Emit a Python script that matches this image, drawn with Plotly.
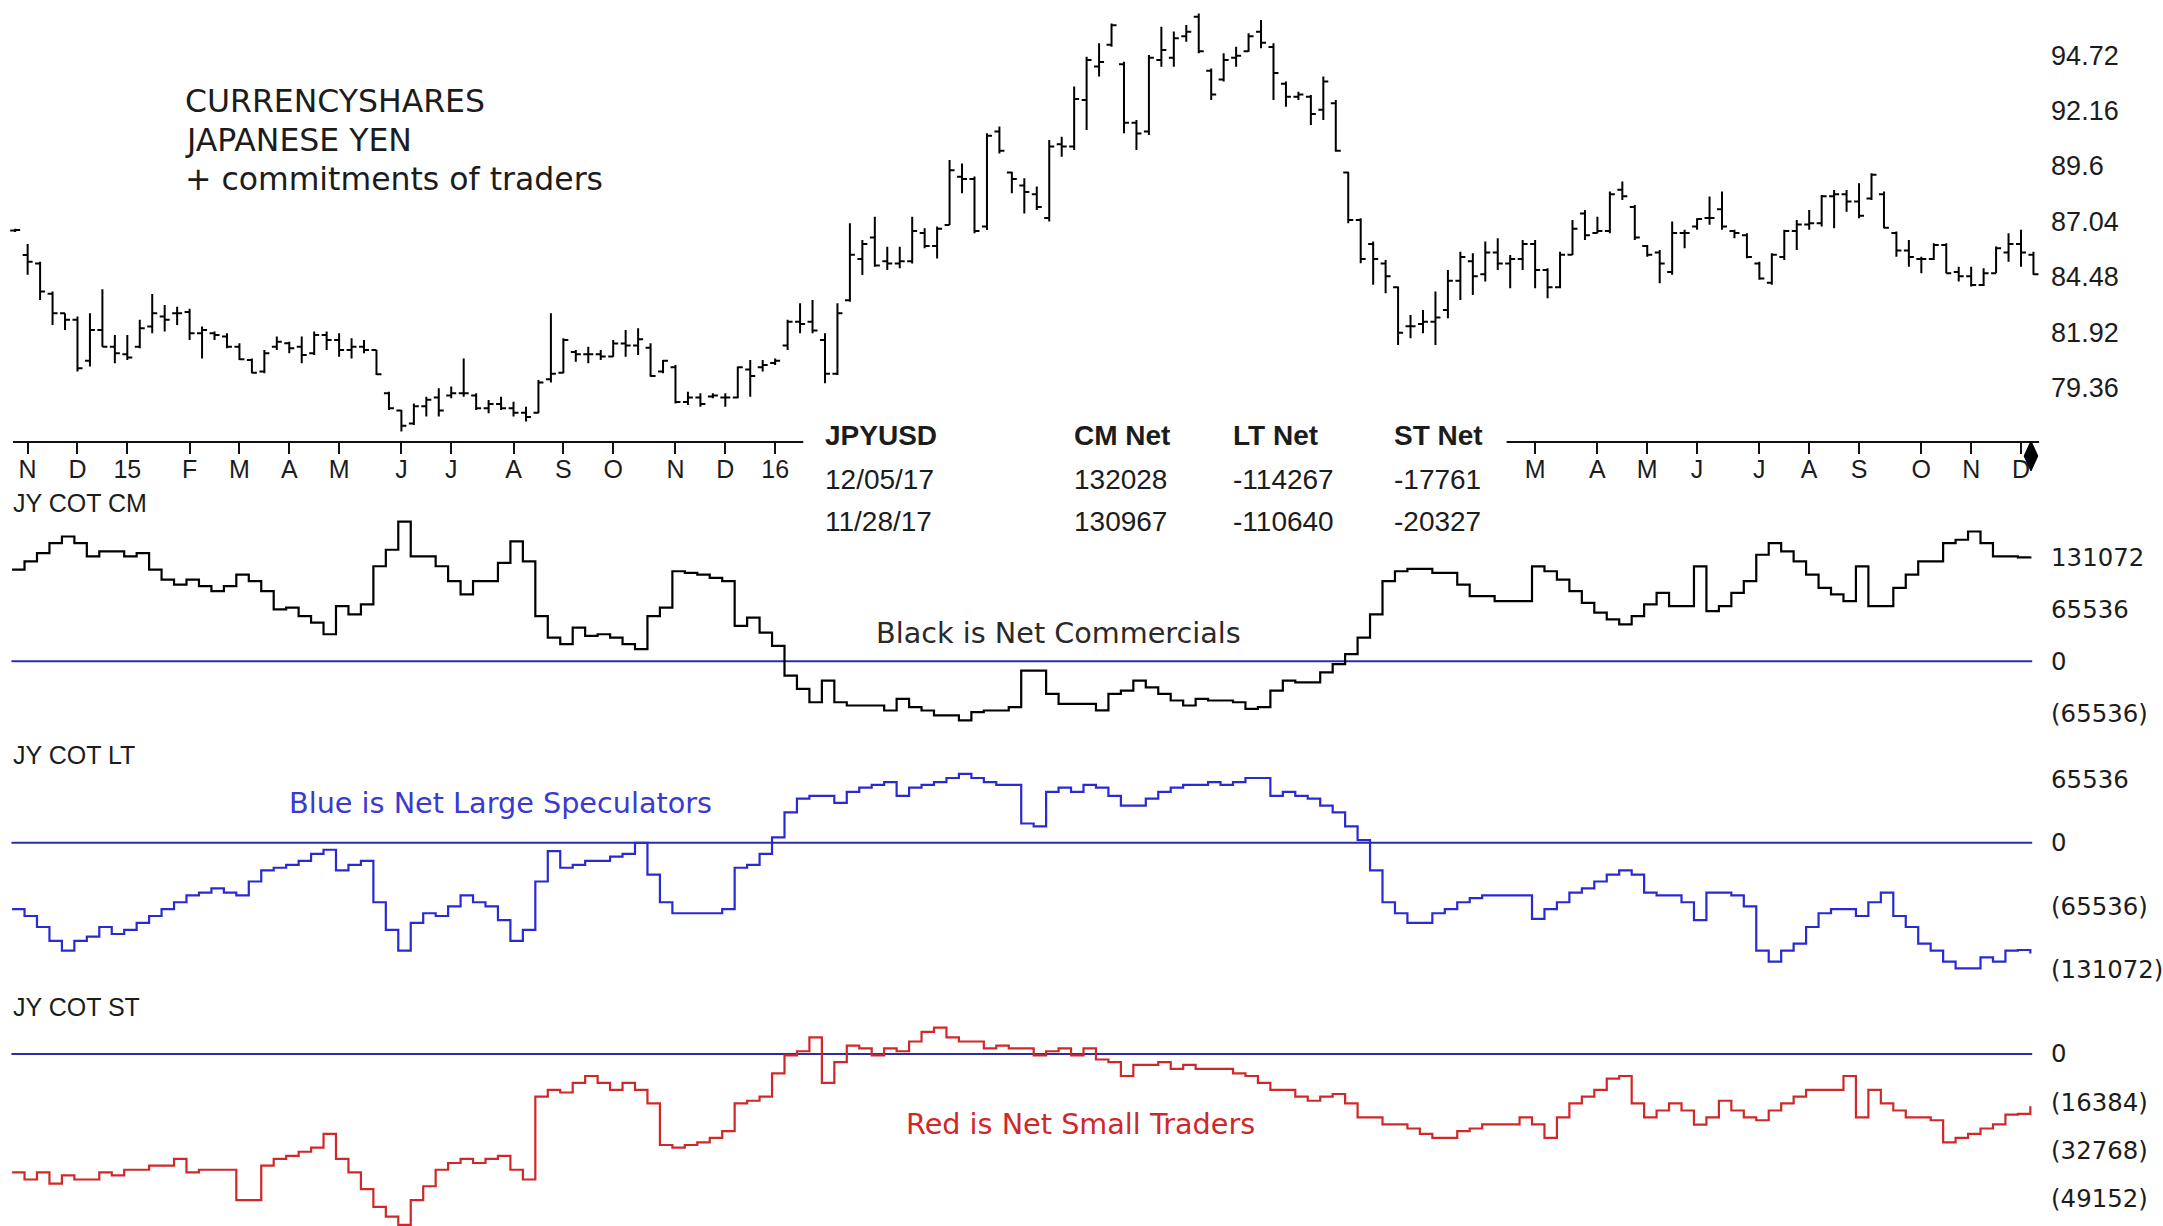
import pandas as pd
import plotly.graph_objects as go

FIG_W, FIG_H = 2163, 1226

# Weekly bars (week ending Friday)
WEEKS = pd.date_range("2014-10-31", "2017-12-08", freq="W-FRI")

OPEN = [
    86.62, 85.49, 85.10, 83.70, 82.79, 82.49, 80.60, 82.02, 81.25, 80.90,
    81.25, 82.18, 82.64, 82.79, 82.85, 81.87, 81.87, 81.72, 81.25, 80.64,
    80.10, 81.25, 81.41, 81.25, 80.95, 81.79, 81.56, 81.10, 81.25, 81.10,
    79.10, 78.30, 77.70, 78.50, 78.90, 79.00, 79.10, 79.00, 78.40, 78.60,
    78.40, 78.20, 78.20, 79.75, 80.05, 81.00, 80.90, 80.90, 80.80, 81.40,
    81.30, 81.20, 80.10, 80.30, 78.70, 78.90, 78.95, 78.90, 78.90, 80.20,
    80.30, 80.50, 81.30, 82.40, 82.40, 81.56, 80.00, 83.40, 85.30, 86.30,
    85.20, 85.10, 85.20, 86.50, 85.90, 86.87, 89.10, 89.00, 86.80, 91.20,
    89.30, 88.70, 88.30, 87.20, 90.60, 90.50, 92.65, 94.20, 95.20, 94.30,
    91.60, 91.20, 94.50, 94.60, 95.60, 96.50, 94.00, 93.60, 94.60, 94.90,
    95.80, 95.10, 93.40, 92.80, 92.80, 92.20, 92.50, 89.30, 87.10, 86.00,
    85.10, 84.00, 82.20, 82.30, 82.40, 82.95, 84.30, 85.20, 84.60, 85.60,
    85.10, 85.30, 86.00, 84.80, 84.00, 85.50, 87.40, 86.50, 86.60, 88.50,
    87.70, 85.90, 85.60, 84.70, 86.50, 86.80, 87.20, 87.60, 86.60, 86.40,
    85.10, 84.20, 85.40, 86.60, 86.90, 86.95, 88.20, 88.30, 87.96, 88.10,
    88.30, 86.50, 85.70, 85.30, 85.30, 85.95, 84.70, 84.50, 84.10, 84.64,
    85.60, 86.00, 85.50,
]
HIGH = [
    86.70, 86.00, 85.18, 83.80, 82.79, 82.64, 82.79, 83.90, 81.79, 81.79,
    82.49, 83.69, 83.18, 83.10, 83.00, 82.18, 81.95, 81.87, 81.41, 80.71,
    81.10, 81.72, 81.48, 81.72, 81.95, 81.95, 81.87, 81.64, 81.56, 81.10,
    79.17, 78.33, 78.63, 78.94, 79.33, 79.41, 80.71, 79.10, 78.79, 78.94,
    78.71, 78.48, 79.71, 82.79, 81.64, 81.10, 81.25, 81.10, 81.56, 82.02,
    82.10, 81.41, 80.64, 80.41, 79.17, 79.10, 79.10, 79.10, 80.33, 80.64,
    80.64, 80.71, 82.49, 83.26, 83.41, 81.87, 83.26, 86.95, 86.18, 87.26,
    85.87, 85.87, 87.26, 86.72, 86.80, 89.88, 89.72, 89.11, 91.11, 91.42,
    89.34, 89.03, 88.65, 90.80, 90.95, 93.27, 94.65, 95.27, 96.19, 94.42,
    91.73, 94.73, 96.04, 95.81, 96.11, 96.65, 94.11, 94.81, 95.11, 95.73,
    96.35, 95.27, 93.50, 93.03, 92.88, 93.73, 92.65, 89.34, 87.19, 86.11,
    85.26, 84.03, 82.72, 82.95, 83.80, 84.80, 85.64, 85.57, 86.11, 86.26,
    85.49, 86.18, 86.18, 84.88, 85.64, 87.11, 87.57, 87.26, 88.42, 88.88,
    87.80, 85.95, 85.72, 87.03, 86.65, 87.19, 88.19, 88.42, 86.65, 86.49,
    85.18, 85.57, 86.65, 87.11, 87.57, 88.26, 88.49, 88.49, 88.80, 89.26,
    88.42, 86.57, 86.18, 85.41, 86.03, 86.03, 84.95, 84.95, 84.88, 85.88,
    86.49, 86.65, 85.64,
]
LOW = [
    86.55, 84.57, 83.41, 82.25, 82.02, 80.10, 80.33, 81.25, 80.48, 80.64,
    81.18, 81.87, 81.95, 82.25, 81.56, 80.71, 81.56, 81.18, 80.64, 80.02,
    80.02, 81.10, 80.95, 80.48, 80.87, 81.10, 80.79, 80.71, 80.95, 79.94,
    78.33, 77.33, 77.63, 78.02, 78.02, 78.87, 78.94, 78.33, 78.17, 78.33,
    78.02, 77.79, 78.17, 79.60, 80.02, 80.56, 80.48, 80.64, 80.79, 80.79,
    80.87, 79.86, 80.02, 78.63, 78.56, 78.48, 78.87, 78.48, 78.87, 78.94,
    80.10, 80.41, 81.10, 81.87, 81.87, 79.56, 79.94, 83.33, 84.56, 84.95,
    84.80, 84.87, 85.10, 85.80, 85.33, 86.87, 88.34, 86.49, 86.64, 90.18,
    88.34, 87.41, 87.57, 87.03, 90.03, 90.34, 91.26, 93.73, 95.11, 91.11,
    90.34, 91.03, 94.19, 94.19, 95.34, 94.81, 92.65, 93.50, 94.19, 94.88,
    95.04, 92.65, 92.34, 92.65, 91.49, 91.73, 90.26, 86.95, 85.11, 84.11,
    83.72, 81.33, 81.64, 81.87, 81.33, 82.56, 83.41, 83.64, 84.26, 84.80,
    83.95, 84.80, 83.95, 83.49, 83.95, 85.49, 86.18, 86.49, 86.49, 88.03,
    86.18, 85.41, 84.18, 84.57, 85.80, 86.65, 86.88, 86.65, 86.26, 85.34,
    84.34, 84.11, 85.26, 85.72, 86.65, 86.80, 86.72, 87.49, 87.19, 88.03,
    86.72, 85.41, 84.95, 84.64, 85.26, 84.64, 84.26, 84.03, 84.05, 84.64,
    85.18, 84.95, 84.57,
]
CLOSE = [
    86.64, 85.18, 83.80, 82.79, 82.49, 80.25, 82.02, 81.25, 80.95, 80.75,
    82.10, 82.79, 82.49, 82.79, 81.87, 82.02, 81.79, 81.25, 80.67, 80.05,
    80.95, 81.48, 81.18, 80.87, 81.79, 81.56, 81.10, 81.25, 81.10, 79.98,
    78.40, 77.60, 78.50, 78.80, 78.30, 79.10, 79.10, 78.40, 78.60, 78.40,
    78.20, 78.00, 79.60, 80.00, 81.56, 80.90, 80.90, 80.80, 81.40, 81.30,
    81.60, 79.90, 80.60, 78.70, 78.90, 78.60, 79.00, 78.90, 80.30, 79.90,
    80.40, 80.60, 82.40, 82.30, 82.00, 80.00, 82.80, 85.50, 86.00, 85.00,
    85.10, 85.20, 86.60, 85.90, 86.70, 89.40, 89.00, 86.60, 91.00, 90.30,
    89.00, 88.40, 87.70, 90.50, 90.50, 92.70, 94.50, 94.40, 96.10, 91.60,
    91.10, 94.60, 94.96, 95.50, 95.80, 94.90, 92.90, 94.50, 94.70, 95.60,
    95.30, 93.90, 92.80, 92.90, 92.00, 93.50, 90.30, 87.10, 85.30, 85.30,
    84.50, 81.90, 82.20, 82.40, 82.60, 84.30, 85.40, 84.50, 85.60, 85.10,
    85.30, 86.00, 84.80, 84.00, 85.50, 86.70, 86.40, 86.60, 88.30, 88.20,
    86.30, 85.50, 85.10, 86.50, 86.50, 87.15, 87.20, 86.80, 86.50, 85.40,
    84.40, 85.50, 86.60, 86.90, 86.95, 88.20, 88.30, 87.96, 87.30, 89.20,
    86.75, 85.70, 85.40, 85.30, 85.95, 84.64, 84.50, 84.10, 84.64, 85.80,
    86.00, 85.60, 84.60,
]

# Commitments of traders: net positions (contracts)
CM_NET = [
    115600, 126000, 136400, 149000, 157300, 149000, 132300, 138500, 138500, 132300,
    136400, 115600, 103000, 96700, 103000, 94600, 88400, 94600, 109300, 100900,
    88400, 65400, 67500, 57000, 48600, 34000, 69600, 59100, 71600, 119800,
    140600, 176100, 132300, 132300, 119800, 100900, 84200, 100900, 100900, 124000,
    151100, 126000, 57000, 29800, 21500, 42400, 31900, 34000, 29800, 21500,
    15200, 57000, 67500, 113500, 111400, 109300, 105100, 100900, 44500, 54900,
    36000, 19400, -18200, -34900, -51700, -24500, -51700, -55800, -55800, -55800,
    -62100, -47500, -58000, -62100, -68300, -68300, -74600, -64200, -62100, -62100,
    -58000, -11900, -11900, -41200, -53700, -53700, -53700, -62000, -41200, -37000,
    -24500, -32900, -41200, -49500, -55800, -47500, -49500, -49500, -51700, -60000,
    -57900, -37000, -24500, -26600, -26600, -14000, -3600, 8900, 29800, 59100,
    100900, 113500, 116400, 116400, 111400, 111400, 96700, 82100, 82100, 75800,
    75800, 75800, 119700, 113500, 103000, 88400, 73700, 61200, 52800, 46600,
    57000, 71600, 86300, 69500, 69500, 119700, 63300, 69500, 86300, 100900,
    134300, 149000, 138500, 126000, 109300, 92600, 84200, 75800, 119700, 69500,
    69500, 92600, 109300, 126000, 126000, 149000, 153200, 163600, 149000, 132300,
    132300, 130967, 132028,
]
LT_NET = [
    -68400, -75500, -86900, -101200, -111200, -101200, -96900, -86900, -94100, -89800,
    -82700, -75500, -68400, -61300, -54200, -51300, -47000, -51300, -54200, -39900,
    -28500, -25700, -22800, -18500, -11400, -7100, -28500, -22800, -18500, -61300,
    -89800, -111200, -82700, -72700, -75500, -65600, -54200, -61300, -65600, -79800,
    -101200, -89800, -39900, -8600, -25700, -22800, -18500, -18500, -14300, -11400,
    0, -32800, -61300, -72700, -72700, -72700, -72700, -68400, -25700, -22800,
    -11400, 5700, 31400, 45600, 48500, 48500, 41300, 52700, 57000, 59900,
    62700, 48500, 57000, 59900, 62700, 67000, 71300, 67000, 62700, 59900,
    59900, 20000, 17100, 52700, 57000, 52700, 59900, 57000, 48500, 38500,
    38500, 45600, 52700, 57000, 59900, 59900, 62700, 59900, 62700, 67000,
    67000, 48500, 52700, 48500, 45600, 38500, 31400, 17100, 2900, -28500,
    -61300, -72700, -82700, -82700, -72700, -68400, -61300, -57000, -54200, -54200,
    -54200, -54200, -78400, -68400, -61300, -51300, -47000, -39900, -32800, -28500,
    -32800, -51300, -54200, -54200, -61300, -79800, -51300, -51300, -54200, -65600,
    -111200, -122600, -111200, -104000, -86900, -72700, -68400, -68400, -75500, -61300,
    -51300, -75500, -86900, -104000, -111200, -122600, -129700, -129700, -118300, -122600,
    -111200, -110640, -114267,
]
ST_NET = [
    -40200, -42600, -40200, -44000, -41200, -42600, -42600, -40200, -41200, -39300,
    -39300, -37900, -37900, -35600, -40200, -39300, -39300, -39300, -49600, -49600,
    -37900, -35600, -34600, -33200, -31800, -27100, -35600, -40200, -45900, -51900,
    -55200, -58000, -49600, -44900, -39300, -37000, -35600, -37000, -35600, -34600,
    -39300, -42600, -14500, -12200, -13100, -9800, -7500, -9800, -12200, -9800,
    -12200, -16800, -30900, -31800, -30900, -30000, -28500, -26200, -16800, -15900,
    -14500, -6600, -500, 900, 5600, -9800, -2800, 2800, 1900, -500,
    1900, 900, 4200, 7500, 8900, 5600, 4200, 4200, 1900, 2800,
    1900, 1900, -500, 900, 1900, -500, 1900, -1900, -2800, -7500,
    -3700, -3700, -2800, -5100, -3700, -5100, -5100, -5100, -6600, -7500,
    -9800, -12200, -12200, -14500, -15900, -14500, -13600, -16800, -21500, -21500,
    -23900, -23900, -25300, -27100, -28500, -28500, -26200, -25300, -23900, -23900,
    -23900, -21500, -23900, -28500, -21500, -16800, -14500, -12200, -8400, -7500,
    -16800, -21500, -19200, -16800, -19200, -24000, -21500, -15900, -19200, -21500,
    -22500, -19200, -16800, -14500, -12200, -12200, -12200, -7500, -21500, -12200,
    -16800, -19200, -21500, -21500, -22500, -30000, -28500, -27100, -25300, -23900,
    -20600, -20327, -17761,
]

TICK_MONTHS = [
    "2014-11", "2014-12", "2015-01", "2015-02", "2015-03", "2015-04", "2015-05",
    "2015-06", "2015-07", "2015-08", "2015-09", "2015-10", "2015-11", "2015-12",
    "2016-01", "2017-03", "2017-04", "2017-05", "2017-06", "2017-07", "2017-08",
    "2017-09", "2017-10", "2017-11", "2017-12",
]
TICK_LABELS = ["N", "D", "15", "F", "M", "A", "M", "J", "J", "A", "S", "O", "N", "D",
               "16", "M", "A", "M", "J", "J", "A", "S", "O", "N", "D"]

PRICE_TICKS = [94.72, 92.16, 89.6, 87.04, 84.48, 81.92, 79.36]
PRICE_TICK_TEXT = ["94.72", "92.16", "89.6", "87.04", "84.48", "81.92", "79.36"]
CM_TICKS = [131072, 65536, 0, -65536]
CM_TICK_TEXT = ["131072", "65536", "0", "(65536)"]
LT_TICKS = [65536, 0, -65536, -131072]
LT_TICK_TEXT = ["65536", "0", "(65536)", "(131072)"]
ST_TICKS = [0, -16384, -32768, -49152]
ST_TICK_TEXT = ["0", "(16384)", "(32768)", "(49152)"]

TABLE_HEAD = ["JPYUSD", "CM Net", "LT Net", "ST Net"]
TABLE_ROWS = [
    ["12/05/17", "132028", "-114267", "-17761"],
    ["11/28/17", "130967", "-110640", "-20327"],
]

# ---------------------------------------------------------------- geometry
X0_PX, STEP_PX, PLOT_RIGHT = 15.2, 12.47, 2052
idx = list(range(len(WEEKS)))
month_keys = [d.strftime("%Y-%m") for d in WEEKS]
tick_pos = [month_keys.index(m) for m in TICK_MONTHS]
cot_x = [i - 0.25 for i in idx]


def frac(px):
    return 1 - px / FIG_H


def yrange(v1, p1, v2, p2, top, bottom):
    per_px = (v1 - v2) / (p2 - p1)
    return [v1 - (bottom - p1) * per_px, v1 + (p1 - top) * per_px]


price_rng = yrange(94.72, 55.2, 79.36, 387.6, 0, 441)
cm_rng = yrange(131072, 557.3, -65536, 713.2, 520, 740)
lt_rng = yrange(65536, 779.4, -131072, 969.8, 745, 990)
st_rng = yrange(0, 1053.9, -49152, 1198.8, 995, 1226)

INK = "#1c1c1c"
ZERO_BLUE = "#2c2ca4"
LT_BLUE = "#2a2ad2"
ST_RED = "#d02828"
NARROW = "Liberation Sans, Arial, sans-serif"
WIDE = "DejaVu Sans, Verdana, sans-serif"

fig = go.Figure()

fig.add_trace(go.Ohlc(
    x=idx, open=OPEN, high=HIGH, low=LOW, close=CLOSE,
    increasing=dict(line=dict(color="black", width=2)),
    decreasing=dict(line=dict(color="black", width=2)),
    tickwidth=0.4, xaxis="x", yaxis="y", hoverinfo="skip", showlegend=False,
))

for series, color, yax in [(CM_NET, "black", "y2"), (LT_NET, LT_BLUE, "y3"), (ST_NET, ST_RED, "y4")]:
    fig.add_trace(go.Scatter(
        x=cot_x, y=series, mode="lines",
        line=dict(color=color, width=2.2, shape="hv"),
        xaxis="x", yaxis=yax, hoverinfo="skip", showlegend=False,
    ))

shapes = []
for yref in ["y2", "y3", "y4"]:
    shapes.append(dict(type="line", xref="x", yref=yref, x0=-0.3, x1=idx[-1] - 0.1,
                       y0=0, y1=0, line=dict(color=ZERO_BLUE, width=2), layer="below"))
# breaks in the date axis: left end, behind the data table, right end
for x0, x1 in [(0, 13), (804, 1508), (2041, 2075)]:
    shapes.append(dict(type="rect", xref="paper", yref="paper",
                       x0=x0 / FIG_W, x1=x1 / FIG_W, y0=frac(452), y1=frac(430),
                       fillcolor="white", line=dict(width=0), layer="above"))
# current-bar marker on the date axis
last = idx[-1] - 0.2
dy0, dy1, dym = frac(441), frac(471), frac(456)
shapes.append(dict(
    type="path", xref="x", yref="paper",
    path=f"M {last},{dy0} L {last + 0.55},{dym} L {last},{dy1} L {last - 0.55},{dym} Z",
    fillcolor="black", line=dict(color="black", width=1), layer="above",
))

annotations = []


def label(text, x_px, y_px, size, color=INK, family=WIDE, anchor="left"):
    annotations.append(dict(
        text=text, x=x_px / FIG_W, y=frac(y_px), xref="paper", yref="paper",
        xanchor=anchor, yanchor="middle", showarrow=False,
        font=dict(family=family, size=size, color=color),
    ))


label("CURRENCYSHARES", 183, 101, 31.5)
label("JAPANESE YEN", 183, 140, 31.5)
label("+ commitments of traders", 183, 179, 31.5)

label("JY COT CM", 11, 503, 25, family=NARROW)
label("JY COT LT", 11, 755, 25, family=NARROW)
label("JY COT ST", 11, 1007, 25, family=NARROW)

label("Black is Net Commercials", 1059, 633, 28.7, color="#2a2a2a", anchor="center")
label("Blue is Net Large Speculators", 501, 803, 28.7, color="#3a3ad0", anchor="center")
label("Red is Net Small Traders", 1082, 1124, 28.7, color=ST_RED, anchor="center")

col_x = [824, 1073, 1232, 1393]
for cx, head in zip(col_x, TABLE_HEAD):
    label(f"<b>{head}</b>", cx, 436, 28, family=NARROW)
for row, ry in zip(TABLE_ROWS, [479, 521]):
    for cx, cell in zip(col_x, row):
        label(cell, cx, ry, 28, family=NARROW)

right_axis = dict(side="right", anchor="x", showgrid=False, zeroline=False,
                  showline=False, ticks="", fixedrange=True)

fig.update_layout(
    width=FIG_W, height=FIG_H,
    margin=dict(l=0, r=0, t=0, b=0),
    paper_bgcolor="white", plot_bgcolor="white",
    hovermode=False, showlegend=False,
    xaxis=dict(
        domain=[0, PLOT_RIGHT / FIG_W],
        range=[-X0_PX / STEP_PX, (PLOT_RIGHT - X0_PX) / STEP_PX],
        anchor="y", showgrid=False, zeroline=False,
        showline=True, linecolor="#111", linewidth=2,
        ticks="outside", ticklen=11, tickwidth=2, tickcolor="#111",
        ticklabelstandoff=-6,
        tickvals=tick_pos, ticktext=TICK_LABELS,
        tickfont=dict(family=NARROW, size=25, color=INK),
        rangeslider=dict(visible=False), fixedrange=True,
    ),
    yaxis=dict(domain=[frac(441), 1], range=price_rng,
               tickvals=PRICE_TICKS, ticktext=PRICE_TICK_TEXT,
               tickfont=dict(family=NARROW, size=27, color=INK), **right_axis),
    yaxis2=dict(domain=[frac(740), frac(520)], range=cm_rng,
                tickvals=CM_TICKS, ticktext=CM_TICK_TEXT,
                tickfont=dict(family=WIDE, size=24.4, color=INK), **right_axis),
    yaxis3=dict(domain=[frac(990), frac(745)], range=lt_rng,
                tickvals=LT_TICKS, ticktext=LT_TICK_TEXT,
                tickfont=dict(family=WIDE, size=24.4, color=INK), **right_axis),
    yaxis4=dict(domain=[0, frac(995)], range=st_rng,
                tickvals=ST_TICKS, ticktext=ST_TICK_TEXT,
                tickfont=dict(family=WIDE, size=24.4, color=INK), **right_axis),
    shapes=shapes,
    annotations=annotations,
)

fig.write_html("out.html")
